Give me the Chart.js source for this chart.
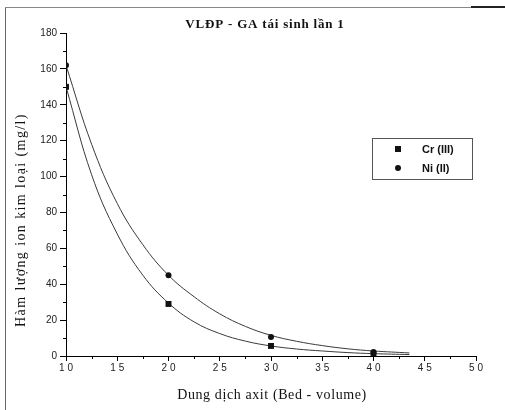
<!DOCTYPE html>
<html>
<head>
<meta charset="utf-8">
<script src="https://cdn.jsdelivr.net/npm/chart.js@4/dist/chart.umd.min.js"></script>
<style>
  html, body { margin: 0; padding: 0; background: #fff; }
  canvas { display: block; }
</style>
</head>
<body>
<canvas id="chart" width="505" height="410"></canvas>
<script>
// measured points
const bedVolume = [10, 20, 30, 40];
const crValues = [150, 29, 5.6, 1];
const niValues = [162, 45, 10.6, 2.2];

// fitted curves
const fitX = [10, 12.5, 15, 17.5, 20, 22.5, 25, 27.5, 30, 32.5, 35, 37.5, 40, 43.5];
const crFitY = [150, 101, 68, 45, 29.5, 19, 12.5, 8.3, 5.6, 3.9, 2.8, 1.9, 1.3, 0.8];
const niFitY = [162, 118, 85, 62, 45, 33, 23.5, 16.5, 11.5, 8.2, 5.8, 4, 2.8, 1.7];

const xTicks = [10, 15, 20, 25, 30, 35, 40, 45, 50];
const yTicks = [0, 20, 40, 60, 80, 100, 120, 140, 160, 180];

const TITLE = 'VLĐP - GA tái sinh lần 1';
const Y_TITLE = 'Hàm lượng ion kim loại (mg/l)';
const X_TITLE = 'Dung dịch axit (Bed - volume)';

const toXY = (xs, ys) => xs.map((x, i) => ({ x, y: ys[i] }));

const fitLine = (xs, ys) => ({
  data: toXY(xs, ys),
  borderColor: '#3a3a3a',
  borderWidth: 1,
  pointRadius: 0,
  tension: 0.4,
  showLine: true,
  fill: false,
  inLegend: false,
});

/**
 * Scan frame drawn behind everything.
 */
const framePlugin = {
  id: 'frame',
  beforeDraw(chart) {
    const { ctx } = chart;
    ctx.save();
    ctx.fillStyle = '#666';
    ctx.fillRect(5, 7, 1, 403);
    ctx.fillStyle = '#888';
    ctx.fillRect(5, 7, 466, 1);
    ctx.fillStyle = '#222';
    ctx.fillRect(471, 6, 34, 2);
    ctx.restore();
  },
};

/**
 * Minor ticks, titles and the inner legend box.
 */
const decorPlugin = {
  id: 'decor',
  afterDraw(chart) {
    const { ctx, chartArea, scales } = chart;
    ctx.save();
    ctx.strokeStyle = '#000';
    ctx.lineWidth = 1;
    // minor ticks
    ctx.beginPath();
    for (let v = 12.5; v < 50; v += 5) {
      const px = Math.round(scales.x.getPixelForValue(v)) + 0.5;
      ctx.moveTo(px, chartArea.bottom);
      ctx.lineTo(px, chartArea.bottom + 3);
    }
    for (let v = 10; v < 180; v += 20) {
      const py = Math.round(scales.y.getPixelForValue(v)) + 0.5;
      ctx.moveTo(chartArea.left, py);
      ctx.lineTo(chartArea.left - 3, py);
    }
    ctx.stroke();

    ctx.fillStyle = '#111';
    ctx.textAlign = 'center';
    ctx.textBaseline = 'middle';

    // chart title
    ctx.font = 'bold 13px "Liberation Serif"';
    ctx.letterSpacing = '0.8px';
    ctx.fillText(TITLE, 265, 25);

    // x title
    ctx.font = '14px "Liberation Serif"';
    ctx.letterSpacing = '0.6px';
    ctx.fillText(X_TITLE, 272, 395);

    // y title
    ctx.save();
    ctx.translate(21, 220);
    ctx.rotate(-Math.PI / 2);
    ctx.letterSpacing = '1.4px';
    ctx.fillText(Y_TITLE, 0, 0);
    ctx.restore();
    ctx.letterSpacing = '0px';

    // legend
    ctx.strokeStyle = '#555';
    ctx.strokeRect(372.5, 138.5, 100, 41);
    ctx.textAlign = 'left';
    ctx.font = 'bold 11px "Liberation Sans"';
    const rows = chart.data.datasets.filter((d) => d.inLegend !== false);
    rows.forEach((d, i) => {
      const cy = 149 + i * 19;
      ctx.fillStyle = '#111';
      if (d.pointStyle === 'rect') {
        ctx.fillRect(395, cy - 3, 6, 6);
      } else {
        ctx.beginPath();
        ctx.arc(398, cy, 3, 0, Math.PI * 2);
        ctx.fill();
      }
      ctx.fillText(d.label, 422, cy + 1);
    });
    ctx.restore();
  },
};

new Chart(document.getElementById('chart'), {
  type: 'scatter',
  data: {
    datasets: [
      {
        label: 'Cr (III)',
        data: toXY(bedVolume, crValues),
        pointStyle: 'rect',
        pointRadius: 4.2,
        backgroundColor: '#111',
        borderColor: '#111',
        borderWidth: 0,
      },
      {
        label: 'Ni (II)',
        data: toXY(bedVolume, niValues),
        pointStyle: 'circle',
        pointRadius: 3,
        backgroundColor: '#111',
        borderColor: '#111',
        borderWidth: 0,
      },
      fitLine(fitX, crFitY),
      fitLine(fitX, niFitY),
    ],
  },
  options: {
    responsive: false,
    animation: false,
    layout: { padding: { left: 10, right: 29, top: 33, bottom: 4 } },
    plugins: {
      legend: { display: false },
      title: { display: false },
      tooltip: { enabled: false },
    },
    scales: {
      x: {
        type: 'linear',
        min: 10,
        max: 50,
        afterBuildTicks: (scale) => { scale.ticks = xTicks.map((value) => ({ value })); },
        afterFit: (scale) => { scale.height = 50; },
        grid: { drawOnChartArea: false, drawTicks: true, tickLength: 5, color: '#000' },
        border: { display: true, color: '#000', width: 1 },
        ticks: {
          color: '#222',
          font: { family: 'Liberation Sans', size: 10 },
          padding: 1,
          maxRotation: 0,
          callback: (v) => String(v).split('').join(' '),
        },
      },
      y: {
        type: 'linear',
        min: 0,
        max: 180,
        afterBuildTicks: (scale) => { scale.ticks = yTicks.map((value) => ({ value })); },
        afterFit: (scale) => { scale.width = 56; },
        grid: { drawOnChartArea: false, drawTicks: true, tickLength: 6, color: '#000' },
        border: { display: true, color: '#000', width: 1 },
        ticks: {
          color: '#222',
          font: { family: 'Liberation Sans', size: 10 },
          padding: 3,
        },
      },
    },
  },
  plugins: [framePlugin, decorPlugin],
});
</script>
</body>
</html>
